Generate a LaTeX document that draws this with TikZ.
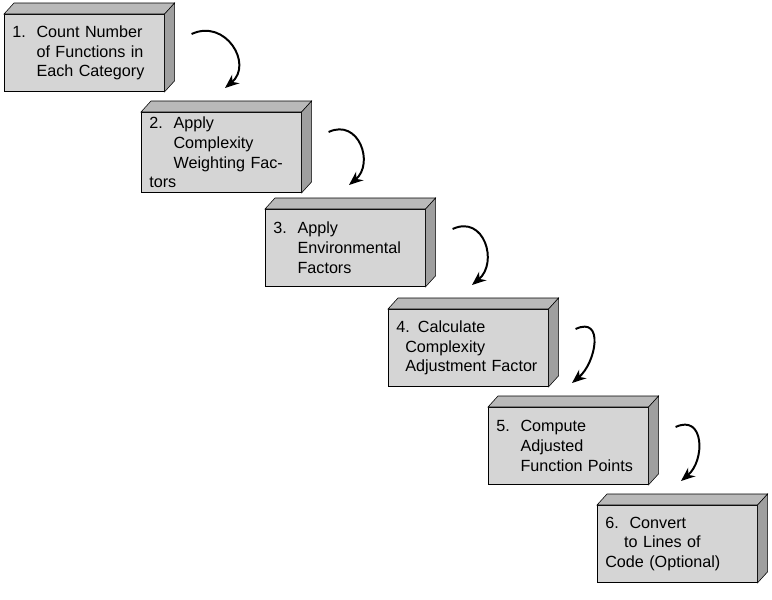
\documentclass[tikz,border=0pt]{standalone}
\usepackage{fontspec}
\setmainfont{Liberation Sans}
\usetikzlibrary{arrows.meta}

\begin{document}
\begin{tikzpicture}[x=0.025cm, y=0.025cm,
    stepbox/.style={draw=black, fill=gray!33, anchor=north west, minimum width=4cm, minimum height=1.93cm,
        inner xsep=0.2cm, text width=3.6cm, align=left, font=\fontsize{11.5}{14}\selectfont},
    topface/.style={draw=black, fill=gray!55},
    sideface/.style={draw=black, fill=gray!75},
    curl/.style={line width=1.4pt, -{Stealth[length=10pt, width=8pt]}, out=25, in=40, looseness=1.5}]
    \useasboundingbox (0,0) rectangle (772,-600);

    \node[stepbox] (b1) at (4,-14) {1.~~Count Number\\\phantom{1.~~}of Functions in\\\phantom{1.~~}Each Category};
    \node[stepbox] (b2) at (141,-112) {2.~~Apply\\\phantom{2.~~}Complexity\\\phantom{2.~~}Weighting Factors};
    \node[stepbox] (b3) at (265,-209) {3.~~Apply\\\phantom{3.~~}Environmental\\\phantom{3.~~}Factors};
    \node[stepbox] (b4) at (388,-309) {4. Calculate\\\phantom{4}Complexity\\\phantom{4}Adjustment Factor};
    \node[stepbox] (b5) at (488,-407) {5.~~Compute\\\phantom{5.~~}Adjusted\\\phantom{5.~~}Function Points};
    \node[stepbox] (b6) at (597,-505) {6.~~Convert\\\phantom{6.~}to Lines of\\Code (Optional)};

    % depth faces
    \foreach \b in {b1,b2,b3,b4,b5,b6}{
        \draw[topface] (\b.north west) -- ([shift={(10,11)}]\b.north west) -- ([shift={(10,11)}]\b.north east) -- (\b.north east) -- cycle;
        \draw[sideface] (\b.north east) -- ([shift={(10,11)}]\b.north east) -- ([shift={(10,11)}]\b.south east) -- (\b.south east) -- cycle;
    }

    % curved arrows
    \foreach \a/\b in {b1/b2,b2/b3,b3/b4,b4/b5,b5/b6}{
        \coordinate (\a-out) at ([shift={(27,-20)}]\a.north east);
        \coordinate (\b-in) at ([shift={(84,24)}]\b.north west);
        \draw[curl] (\a-out) to (\b-in);
    }
\end{tikzpicture}
\end{document}
